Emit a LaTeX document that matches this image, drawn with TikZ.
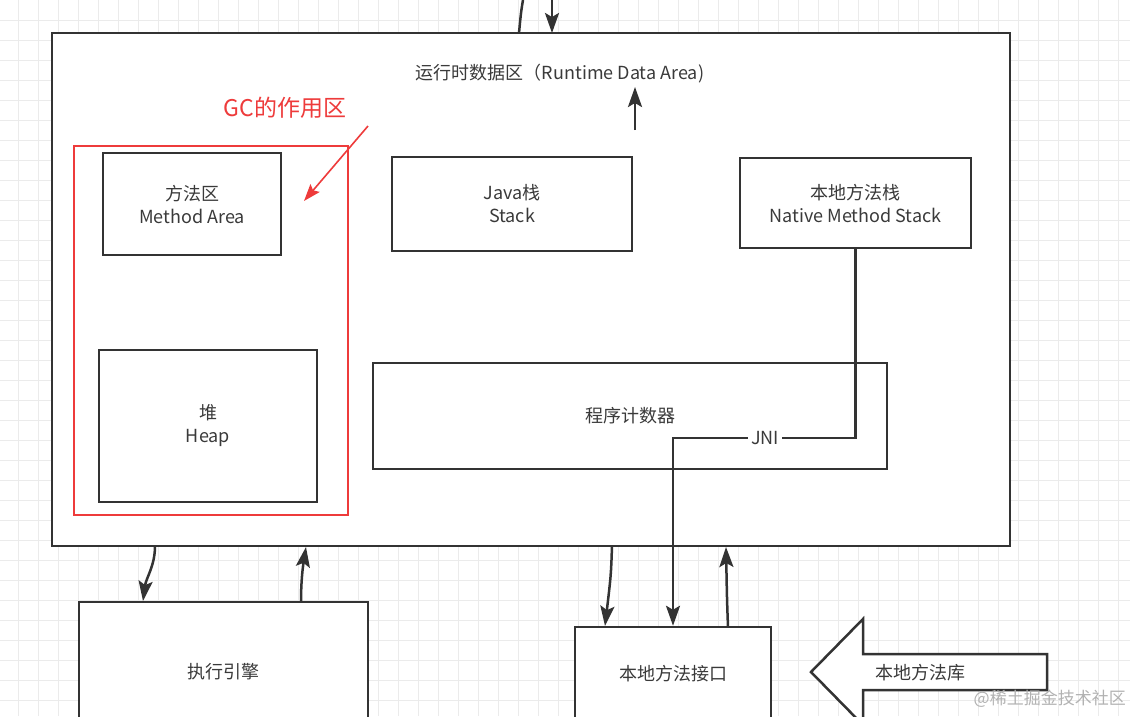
\documentclass[tikz,border=0pt]{standalone}
\usepackage{fontspec}
\setmainfont{Noto Sans CJK SC}
\usetikzlibrary{arrows.meta,calc}
\definecolor{ink}{HTML}{333333}
\definecolor{txt}{HTML}{3A3A3A}
\definecolor{gcred}{HTML}{EE3B3B}
\definecolor{gridc}{HTML}{EBEBEB}
\tikzset{
  box/.style={draw=ink,line width=2.5pt,fill=white,text=txt,align=center,font=\fontsize{18}{23}\selectfont,inner sep=0pt},
  arr/.style={draw=ink,line width=2.5pt,-{Stealth[length=20pt,width=14pt,inset=4pt]}},
  plain/.style={draw=ink,line width=2.5pt},
  lbl/.style={text=txt,font=\fontsize{18}{23}\selectfont,inner sep=1pt},
}
\begin{document}
\begin{tikzpicture}[x=1pt,y=-1pt]
\useasboundingbox (0,0) rectangle (1130,716);
\fill[white] (0,0) rectangle (1130,716);
% grid
\foreach \gx in {18,38,...,1130} \draw[gridc,line width=1pt] (\gx,0) -- (\gx,716);
\foreach \gy in {20,40,...,716} \draw[gridc,line width=1pt] (0,\gy) -- (1130,\gy);

% main box
\node[box,minimum width=958pt,minimum height=513pt] (main) at (531,289.5) {};
\node[lbl] (title) at (560,74) {运行时数据区（Runtime Data Area)};
\coordinate (tup0) at (635,130);
\coordinate (tup1) at (635,87);
\draw[arr] (tup0) -- (tup1);

% top connectors
\coordinate (tc0) at (523,0);
\coordinate (tc1) at (519,33);
\draw[plain] (tc0) .. controls (521,12) .. (tc1);
\coordinate (td0) at (552,0);
\coordinate (td1) at (552,33);
\draw[arr] (td0) -- (td1);

% GC region
\node[draw=gcred,line width=2.5pt,minimum width=274pt,minimum height=369pt,inner sep=0pt] (gc) at (211,330.5) {};
\node[text=gcred,font=\fontsize{23}{26}\selectfont] (gclbl) at (285,108) {GC的作用区};
\coordinate (ga0) at (368,126);
\coordinate (ga1) at (304,201);
\draw[gcred,line width=1.6pt,-{Stealth[length=17pt,width=12pt,inset=3pt]}] (ga0) -- (ga1);

% inner boxes
\node[box,minimum width=178pt,minimum height=102pt] (ma) at (192,204) {方法区\\Method Area};
\node[box,minimum width=240pt,minimum height=94pt] (js) at (512,204) {Java栈\\Stack};
\node[box,minimum width=231pt,minimum height=90pt] (nms) at (855.5,203) {本地方法栈\\Native Method Stack};
\node[box,minimum width=218pt,minimum height=152pt] (heap) at (208,426) {堆\\Heap};
\node[box,minimum width=514pt,minimum height=106pt] (pc) at (630,416) {程序计数器};

% bottom boxes
\node[box,minimum width=289pt,minimum height=140pt] (exec) at (223.5,672) {执行引擎};
\node[box,minimum width=196pt,minimum height=94pt] (nif) at (673,674) {本地方法接口};

% JNI
\node[lbl,fill=white,inner sep=3pt] (jni) at (765,438) {JNI};
\draw[plain] (nms.south) |- (jni.east);
\draw[arr] (jni.west) -| (nif.north);

% exec arrows
\coordinate (e0) at (155,546);
\coordinate (e1) at (143,601);
\draw[arr] (e0) .. controls (155,566) and (146,578) .. (e1);
\coordinate (e2) at (301,602);
\coordinate (e3) at (306,547);
\draw[arr] (e2) .. controls (301,580) and (303,566) .. (e3);

% native interface arrows
\coordinate (n0) at (612,546);
\coordinate (n1) at (605,626);
\draw[arr] (n0) .. controls (611,575) .. (n1);
\coordinate (n2) at (728,627);
\coordinate (n3) at (726,547);
\draw[arr] (n2) .. controls (727,600) .. (n3);

% native library hollow arrow
\draw[ink,line width=2.5pt,fill=white,line join=miter] (811,672) -- (863,619) -- (863,654) -- (1047,654) -- (1047,690) -- (863,690) -- (863,725) -- cycle;
\node[lbl] (lib) at (920,673) {本地方法库};

% watermark
\node[text=gray!60,font=\fontsize{17}{20}\selectfont,anchor=east,inner sep=0pt] (wm) at (1126,699) {@稀土掘金技术社区};
\end{tikzpicture}
\end{document}
